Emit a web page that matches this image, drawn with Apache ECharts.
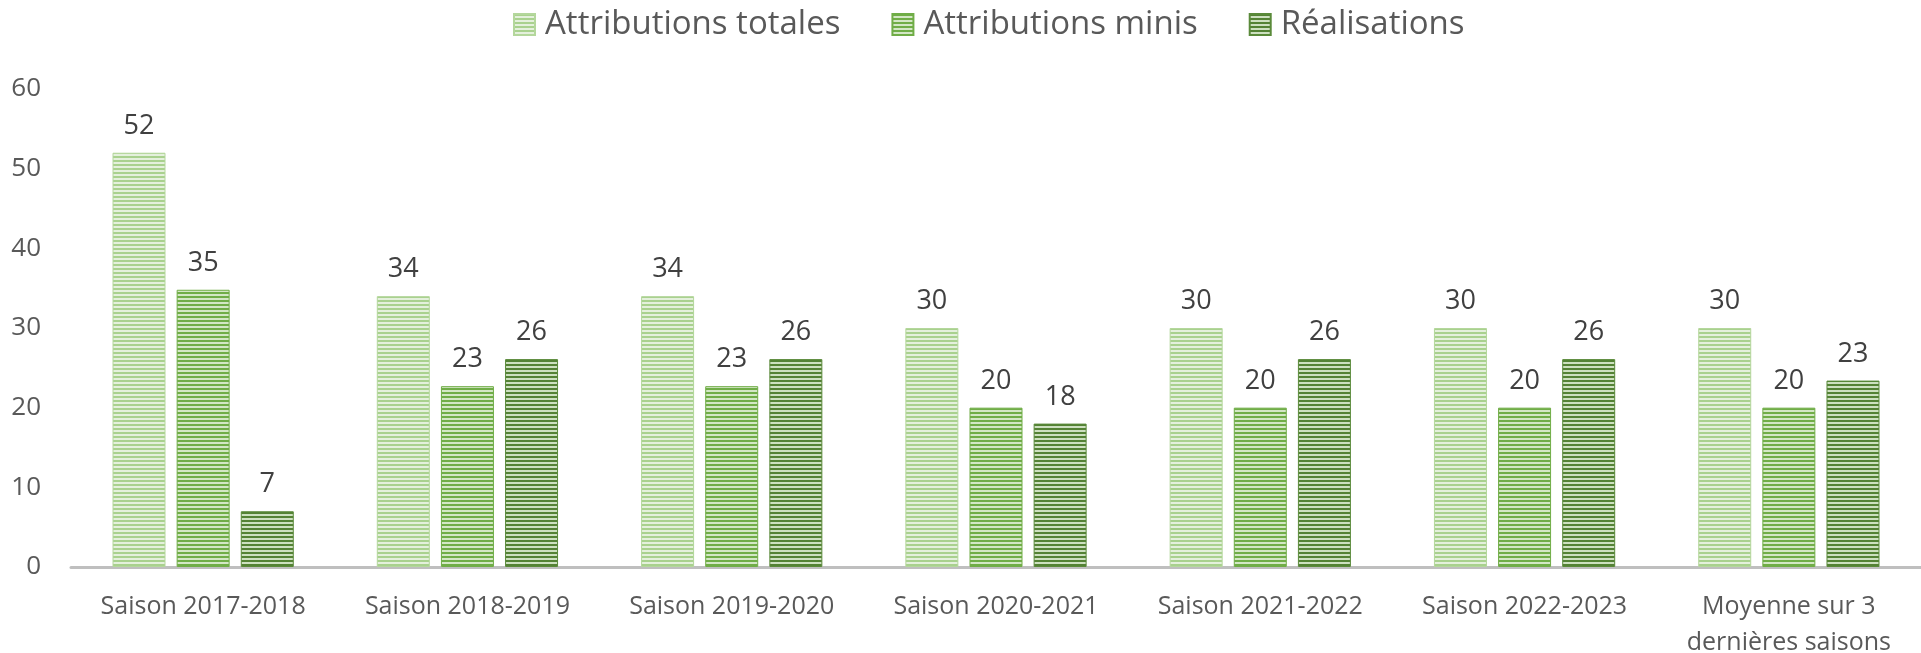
<!DOCTYPE html>
<html>
<head>
<meta charset="utf-8">
<script src="https://cdn.jsdelivr.net/npm/echarts@6/dist/echarts.min.js"></script>
<style>
  html, body { margin: 0; padding: 0; background: #fff; }
  #chart { width: 1921px; height: 653px; }
</style>
</head>
<body>
<div id="chart"></div>
<script>
// categories and values
const categories = [
  'Saison 2017-2018',
  'Saison 2018-2019',
  'Saison 2019-2020',
  'Saison 2020-2021',
  'Saison 2021-2022',
  'Saison 2022-2023',
  'Moyenne sur 3\ndernières saisons'
]
const seriesNames = ['Attributions totales', 'Attributions minis', 'Réalisations']
const totales = [52, 34, 34, 30, 30, 30, 30]
const minis = [34.8, 22.7, 22.7, 20, 20, 20, 20]
const realisations = [7, 26.1, 26.1, 18, 26.1, 26.1, 23.4]
const yTicks = [0, 10, 20, 30, 40, 50, 60]

const FONT = '"Open Sans", "Noto Sans", sans-serif'

// striped fill like the Excel "narrow horizontal" pattern
const stripes = (line, gap) => {
  const c = document.createElement('canvas')
  c.width = 4
  c.height = 4
  const ctx = c.getContext('2d')
  ctx.fillStyle = gap
  ctx.fillRect(0, 0, 4, 4)
  ctx.fillStyle = line
  ctx.fillRect(0, 0, 4, 2)
  return { image: c, repeat: 'repeat' }
}

const styles = [
  { fill: stripes('#a9d18e', '#e4f0dc'), border: '#b4d79c' },
  { fill: stripes('#70ad47', '#d3e7c5'), border: '#70ad47' },
  { fill: stripes('#548235', '#cde0c0'), border: '#5a8a3a' }
]

const chart = echarts.init(document.getElementById('chart'))

const makeSeries = (name, data, i) => ({
  name: name,
  type: 'bar',
  data: data,
  barWidth: 53,
  barGap: '21%',
  itemStyle: {
    color: styles[i].fill,
    borderColor: styles[i].border,
    borderWidth: 1
  },
  label: {
    show: true,
    position: 'top',
    distance: 13,
    color: '#404040',
    fontFamily: FONT,
    fontSize: 27,
    formatter: (p) => Math.round(p.value)
  }
})

const option = {
  animation: false,
  textStyle: { fontFamily: FONT },
  legend: {
    data: seriesNames,
    top: 8,
    left: 513,
    padding: 0,
    icon: 'rect',
    itemWidth: 21,
    itemHeight: 21,
    itemGap: 51,
    textStyle: {
      fontFamily: FONT,
      fontSize: 33,
      color: '#595959',
      padding: [0, 0, 0, 5]
    }
  },
  grid: {
    left: 71,
    right: 0,
    top: 89,
    bottom: 86,
    outerBoundsMode: 'none'
  },
  xAxis: {
    type: 'category',
    data: categories,
    axisLine: { lineStyle: { color: '#bfbfbf', width: 3 } },
    axisTick: { show: false },
    axisLabel: {
      interval: 0,
      margin: 22,
      color: '#595959',
      fontFamily: FONT,
      fontSize: 25,
      lineHeight: 36
    }
  },
  yAxis: {
    type: 'value',
    min: yTicks[0],
    max: yTicks[yTicks.length - 1],
    interval: 10,
    splitLine: { show: false },
    axisLine: { show: false },
    axisTick: { show: false },
    axisLabel: {
      margin: 30,
      color: '#595959',
      fontFamily: FONT,
      fontSize: 26
    }
  },
  series: [
    makeSeries(seriesNames[0], totales, 0),
    makeSeries(seriesNames[1], minis, 1),
    makeSeries(seriesNames[2], realisations, 2)
  ]
}

chart.setOption(option)
</script>
</body>
</html>
